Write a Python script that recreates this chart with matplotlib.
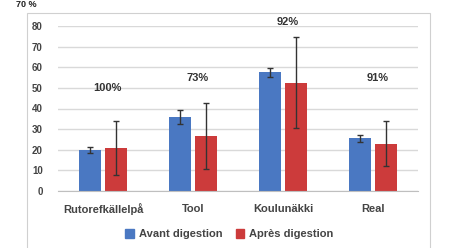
import matplotlib.pyplot as plt
import numpy as np
from matplotlib.patches import Rectangle

# data
categories = ["Rutorefkällelpå", "Tool", "Koulunäkki", "Real"]
avant = [20, 36, 57.5, 25.5]
avant_err = [1.5, 3.5, 2, 1.5]
apres = [21, 26.5, 52.5, 23]
apres_err = [13, 16, 22, 11]
pct_labels = ["100%", "73%", "92%", "91%"]
pct_y = [50, 55, 82, 55]

blue = "#4a78c2"
red = "#cc3b3b"

plt.rcParams['font.family'] = ['Liberation Sans', 'DejaVu Sans']

fig = plt.figure(figsize=(4.54, 2.48), dpi=100)
fig.patch.set_facecolor("white")

# outer chart frame
fig.patches.append(Rectangle((27 / 454, -0.05), (430 - 27) / 454, 1.05 - 13 / 248,
                             transform=fig.transFigure, fill=False,
                             edgecolor="#d0d0d0", lw=0.8))
fig.text(0.035, 0.998, "70 %", fontsize=6.5, fontweight="bold", va="top", color="#222222")

ax = fig.add_axes([58 / 454, 1 - 191 / 248, 360 / 454, (191 - 26) / 248])
x = np.arange(len(categories))
w = 0.235
off = 0.145

ax.bar(x - off, avant, w, color=blue, zorder=2)
ax.bar(x + off, apres, w, color=red, zorder=2)
ax.errorbar(x - off, avant, yerr=avant_err, fmt="none", ecolor="#333333",
            elinewidth=1, capsize=2.5, capthick=1, zorder=3)
ax.errorbar(x + off, apres, yerr=apres_err, fmt="none", ecolor="#333333",
            elinewidth=1, capsize=2.5, capthick=1, zorder=3)

for i, (lab, yy) in enumerate(zip(pct_labels, pct_y)):
    ax.text(i + 0.05, yy, lab, ha="center", va="center", fontsize=8,
            fontweight="bold", color="#333333")

ax.set_xlim(-0.5, 3.5)
ax.set_ylim(0, 80)
ax.set_yticks(range(0, 81, 10))
ax.yaxis.grid(True, color="#d9d9d9", lw=1, zorder=0)
ax.set_axisbelow(True)
for s in ["top", "right", "left"]:
    ax.spines[s].set_visible(False)
ax.spines["bottom"].set_color("#bfbfbf")
ax.set_xticks(x)
ax.set_xticklabels(categories, fontsize=8, fontweight="bold", color="#444444")
ax.tick_params(axis="x", length=0, pad=9)
ax.tick_params(axis="y", length=0, pad=11, labelsize=7, labelcolor="#444444")
for t in ax.get_yticklabels():
    t.set_fontweight("bold")

h1 = Rectangle((0, 0), 1, 1, color=blue)
h2 = Rectangle((0, 0), 1, 1, color=red)
fig.legend([h1, h2], ["Avant digestion", "Après digestion"], loc="center",
           bbox_to_anchor=(0.505, 0.055), ncol=2, frameon=False,
           prop={"size": 8, "weight": "bold"}, handlelength=0.8, handleheight=0.8,
           handletextpad=0.4, columnspacing=1.2, labelcolor="#444444")

fig.savefig("out.png", dpi=100)
